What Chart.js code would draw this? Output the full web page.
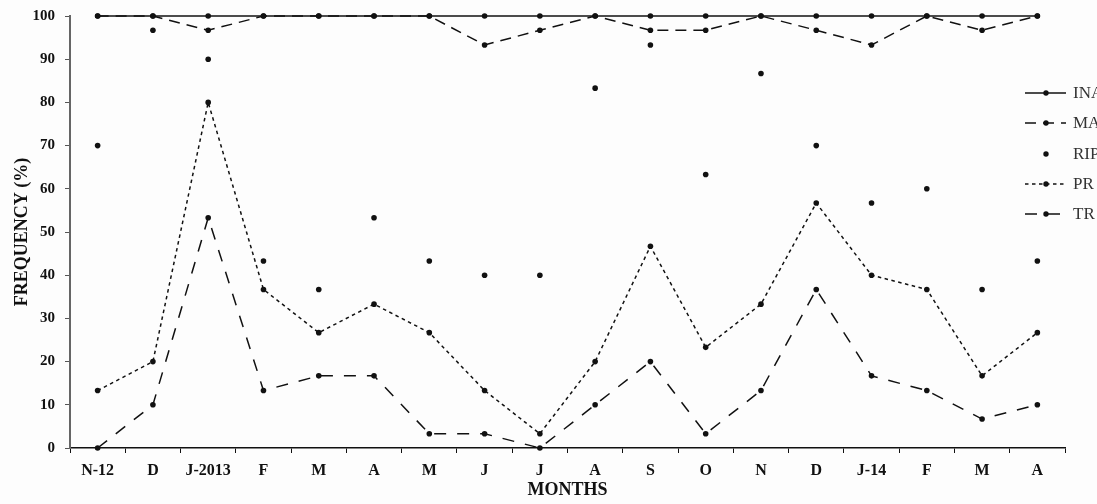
<!DOCTYPE html>
<html lang="en">
<head>
    <meta charset="UTF-8">
    <title>Frequency by month</title>
    <script src="https://cdn.jsdelivr.net/npm/chart.js"></script>
    <style>
        html, body { margin: 0; padding: 0; background: #fdfdfd; }
        #wrap { width: 1097px; height: 504px; }
    </style>
</head>
<body>
    <div id="wrap"><canvas id="freqChart" width="1097" height="504"></canvas></div>
    <script>
        // months (Nov 2012 - Apr 2014)
        const months = ['N-12', 'D', 'J-2013', 'F', 'M', 'A', 'M', 'J', 'J', 'A', 'S', 'O', 'N', 'D', 'J-14', 'F', 'M', 'A'];

        // frequencies in %
        const ina = [100, 100, 100, 100, 100, 100, 100, 100, 100, 100, 100, 100, 100, 100, 100, 100, 100, 100];
        const mat = [100, 100, 96.7, 100, 100, 100, 100, 93.3, 96.7, 100, 96.7, 96.7, 100, 96.7, 93.3, 100, 96.7, 100];
        const rip = [70, 96.7, 90, 43.3, 36.7, 53.3, 43.3, 40, 40, 83.3, 93.3, 63.3, 86.7, 70, 56.7, 60, 36.7, 43.3];
        const pr = [13.3, 20, 80, 36.7, 26.7, 33.3, 26.7, 13.3, 3.3, 20, 46.7, 23.3, 33.3, 56.7, 40, 36.7, 16.7, 26.7];
        const tr = [0, 10, 53.3, 13.3, 16.7, 16.7, 3.3, 3.3, 0, 10, 20, 3.3, 13.3, 36.7, 16.7, 13.3, 6.7, 10];

        const serif = '"Liberation Serif", "DejaVu Serif", serif';
        const ink = '#111';

        function series(label, data, dash, showLine) {
            return {
                label: label,
                data: data,
                borderColor: ink,
                backgroundColor: ink,
                borderWidth: showLine ? 1.5 : 0,
                borderDash: dash,
                showLine: showLine,
                pointRadius: 2.8,
                pointHoverRadius: 2.8,
                pointBackgroundColor: ink,
                pointBorderColor: ink,
                pointBorderWidth: 0,
                tension: 0,
                clip: false
            };
        }

        // legend drawn at the right edge, partly cut off like the original
        const sideLegend = {
            id: 'sideLegend',
            afterDraw(chart) {
                const ctx = chart.ctx;
                const ys = [93, 123, 154, 184, 214];
                chart.data.datasets.forEach((ds, i) => {
                    const y = ys[i];
                    ctx.save();
                    ctx.strokeStyle = ink;
                    ctx.lineWidth = 1.4;
                    if (ds.showLine) {
                        ctx.setLineDash(ds.borderDash || []);
                        ctx.beginPath();
                        ctx.moveTo(1025, y);
                        ctx.lineTo(1066, y);
                        ctx.stroke();
                    }
                    ctx.setLineDash([]);
                    ctx.fillStyle = ink;
                    ctx.beginPath();
                    ctx.arc(1046, y, 2.7, 0, Math.PI * 2);
                    ctx.fill();
                    ctx.fillStyle = '#333';
                    ctx.font = '17px ' + serif;
                    ctx.textBaseline = 'middle';
                    ctx.fillText(ds.label, 1073, y + 1);
                    ctx.restore();
                });
            }
        };

        new Chart(document.getElementById('freqChart').getContext('2d'), {
            type: 'line',
            data: {
                labels: months,
                datasets: [
                    series('INA', ina, [], true),
                    series('MAT', mat, [11, 7], true),
                    series('RIP', rip, [], false),
                    series('PR', pr, [3.5, 3.5], true),
                    series('TR', tr, [12, 11], true)
                ]
            },
            options: {
                responsive: false,
                animation: false,
                events: [],
                layout: { padding: { top: 16, right: 32, left: 0, bottom: 0 } },
                plugins: {
                    legend: { display: false },
                    tooltip: { enabled: false }
                },
                scales: {
                    x: {
                        type: 'category',
                        offset: true,
                        afterFit(scale) {
                            scale.height = 56;
                            scale.paddingLeft = 0;
                            scale.paddingRight = 0;
                        },
                        grid: {
                            offset: true,
                            drawOnChartArea: false,
                            drawTicks: true,
                            tickLength: 5,
                            color: ink
                        },
                        border: { display: true, color: ink, width: 1.5 },
                        ticks: {
                            color: ink,
                            padding: 8,
                            maxRotation: 0,
                            autoSkip: false,
                            font: { family: serif, size: 16, weight: 'bold' }
                        },
                        title: {
                            display: true,
                            text: 'MONTHS',
                            color: ink,
                            padding: { top: 0, bottom: 3 },
                            font: { family: serif, size: 18, weight: 'bold' }
                        }
                    },
                    y: {
                        min: 0,
                        max: 100,
                        afterFit(scale) {
                            scale.width = 70;
                            scale.paddingTop = 0;
                            scale.paddingBottom = 0;
                        },
                        grid: {
                            drawOnChartArea: false,
                            drawTicks: true,
                            tickLength: 5,
                            color: '#555'
                        },
                        border: { display: true, color: '#666', width: 2 },
                        ticks: {
                            stepSize: 10,
                            color: ink,
                            padding: 10,
                            font: { family: serif, size: 15, weight: 'bold' }
                        },
                        title: {
                            display: true,
                            text: 'FREQUENCY (%)',
                            color: ink,
                            padding: { top: 12, bottom: 0 },
                            font: { family: serif, size: 18, weight: 'bold' }
                        }
                    }
                }
            },
            plugins: [sideLegend]
        });
    </script>
</body>
</html>
